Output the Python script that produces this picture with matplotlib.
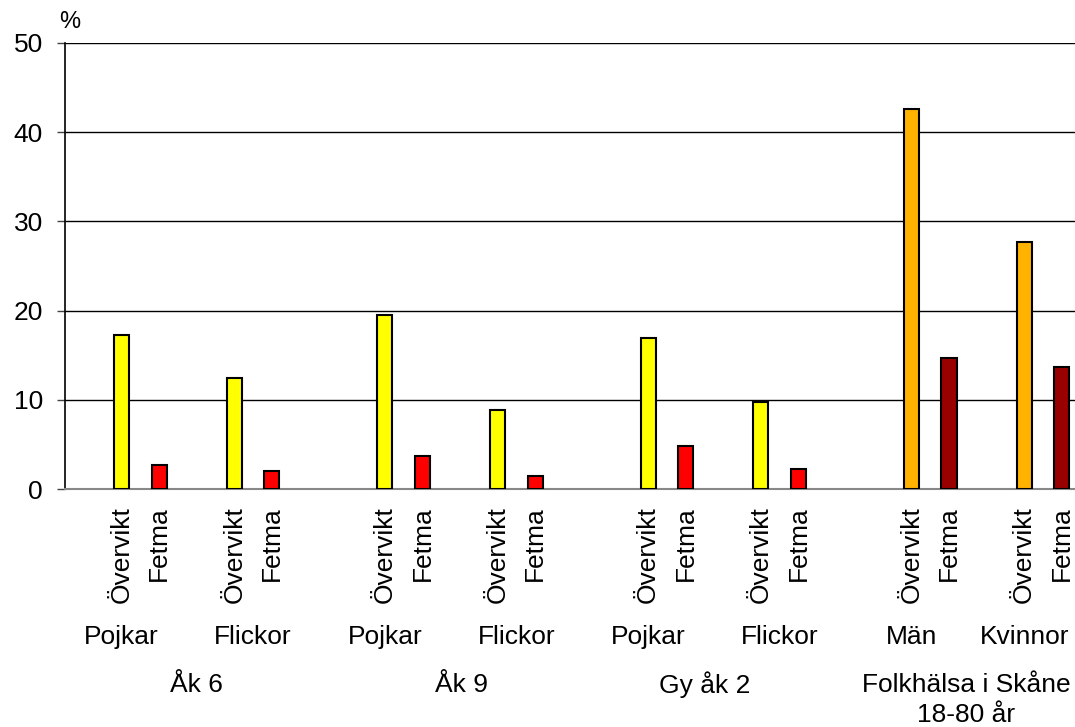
import matplotlib
matplotlib.use("Agg")
import matplotlib.pyplot as plt

plt.rcParams['font.family'] = ['Liberation Sans', 'DejaVu Sans']

# data
measures = ["Övervikt", "Fetma"]
subgroups = ["Pojkar", "Flickor", "Pojkar", "Flickor", "Pojkar", "Flickor", "Män", "Kvinnor"]
groups = ["Åk 6", "Åk 9", "Gy åk 2", "Folkhälsa i Skåne\n18-80 år"]
overvikt = [17.3, 12.5, 19.5, 8.9, 16.9, 9.8, 42.6, 27.7]
fetma = [2.7, 2.0, 3.7, 1.5, 4.8, 2.3, 14.7, 13.7]
col_overvikt = ["#FFFF00"] * 6 + ["#FFB300"] * 2
col_fetma = ["#FF0000"] * 6 + ["#990000"] * 2

# slot layout (Excel-style category axis with blank gaps)
slots = [0, 3, 7, 10, 14, 17, 21, 24]
sub_x = [0, 3.5, 7, 10.5, 14, 17.5, 21, 24]
grp_x = [2, 9.05, 15.5, 22.45]

fig = plt.figure(figsize=(10.75, 7.27), dpi=100)
ax = fig.add_axes([0.0605, 0.327, 0.9395, 0.614])

w = 0.4
for i, s in enumerate(slots):
    ax.bar(s, overvikt[i], width=w, color=col_overvikt[i], edgecolor="black", linewidth=1.5, zorder=3)
    ax.bar(s + 1, fetma[i], width=w, color=col_fetma[i], edgecolor="black", linewidth=1.5, zorder=3)

ax.set_ylim(0, 50)
ax.set_xlim(-1.5, 25.35)
ax.set_yticks([0, 10, 20, 30, 40, 50])
ax.tick_params(axis='y', labelsize=19, length=6, width=1, color="#444444", pad=10)
ax.set_xticks([])
ax.yaxis.grid(True, color="black", linewidth=1)
ax.set_axisbelow(True)
for sp in ["top", "right"]:
    ax.spines[sp].set_visible(False)
ax.spines["left"].set_linewidth(1.2)
ax.spines["bottom"].set_color("#888888")
ax.spines["bottom"].set_linewidth(1.5)

tr = ax.get_xaxis_transform()
for s in slots:
    for k, m in enumerate(measures):
        ax.text(s + k, -0.037, m, transform=tr, rotation=90, ha="center", va="top", fontsize=19)
for x, lab in zip(sub_x, subgroups):
    ax.text(x, -0.331, lab, transform=tr, ha="center", va="center", fontsize=19)
for x, lab in zip(grp_x, groups):
    y = -0.472 if "\n" in lab else -0.438
    ax.text(x, y, lab, transform=tr, ha="center", va="center", fontsize=19, linespacing=1.3)

fig.text(0.065, 0.97, "%", ha="center", va="center", fontsize=17)

fig.savefig("out.png", dpi=100)
